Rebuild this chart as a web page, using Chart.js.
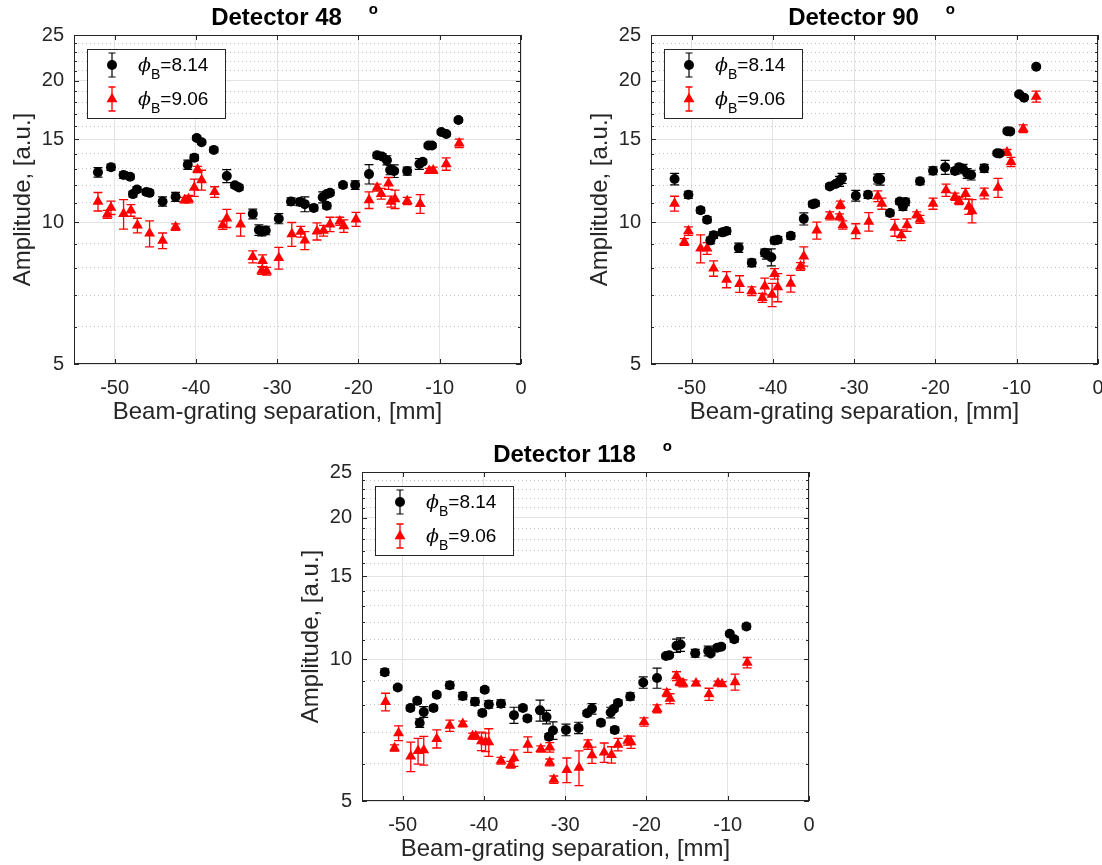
<!DOCTYPE html>
<html>
<head>
<meta charset="utf-8">
<title>Detector amplitudes vs beam-grating separation</title>
<script src="https://cdn.jsdelivr.net/npm/chart.js@4.4.1/dist/chart.umd.min.js"></script>
<style>
  html, body { margin: 0; padding: 0; background: #fff; overflow: hidden; }
  #page { position: relative; width: 1102px; height: 865px; overflow: hidden; }
  .panel { position: absolute; width: 560px; height: 428px; }
</style>
</head>
<body>
<div id="page">
  <div class="panel" style="left:0px;top:0px"><canvas id="c48" width="560" height="428"></canvas></div>
  <div class="panel" style="left:577px;top:0px"><canvas id="c90" width="560" height="428"></canvas></div>
  <div class="panel" style="left:288px;top:437px"><canvas id="c118" width="560" height="428"></canvas></div>
</div>
<script>
// Three panels, one per detector angle. Amplitude on a log axis,
// two beam angles (phi_B = 8.14 black dots, 9.06 red triangles) with error bars.

// --- axis ticks ---
const xMajor = [-50, -40, -30, -20, -10, 0];
const yMajor = [5, 10, 15, 20, 25];
const yMinor = [6, 7, 8, 9, 11, 12, 13, 14, 16, 17, 18, 19, 21, 22, 23, 24];
const legendValues = ['=8.14', '=9.06'];
const xLabel = 'Beam-grating separation, [mm]';
const yLabel = 'Amplitude, [a.u.]';

// --- Detector 48 ---
const det48_x814 = [-52.05, -50.45, -48.9, -48.1, -47.75, -47.25, -46.1, -45.7, -44.1, -42.5, -41.0, -40.2, -39.9, -39.3, -37.8, -36.2, -35.2, -34.7, -33.0, -32.25, -31.9, -31.4, -29.8, -28.3, -27.2, -26.6, -25.5, -24.4, -23.9, -23.5, -23.9, -21.9, -20.4, -18.7, -17.7, -17.1, -16.5, -16.1, -15.6, -14.0, -12.5, -12.1, -11.4, -10.95, -9.8, -9.2, -7.7];
const det48_y814 = [12.77, 13.09, 12.60, 12.50, 11.48, 11.74, 11.60, 11.55, 11.07, 11.33, 13.26, 13.72, 15.11, 14.80, 14.25, 12.54, 11.99, 11.86, 10.42, 9.63, 9.56, 9.61, 10.18, 11.07, 11.05, 10.93, 10.73, 11.30, 11.48, 11.55, 10.84, 12.00, 12.00, 12.66, 13.88, 13.80, 13.55, 12.92, 12.85, 12.85, 13.30, 13.45, 14.56, 14.56, 15.55, 15.40, 16.50];
const det48_e814 = [0.3, 0.2, 0.2, 0.15, 0.15, 0.15, 0.15, 0.15, 0.25, 0.25, 0.3, 0.2, 0.15, 0.15, 0.15, 0.4, 0.15, 0.15, 0.25, 0.25, 0.2, 0.2, 0.25, 0.2, 0.2, 0.4, 0.15, 0.3, 0.15, 0.15, 0.15, 0.15, 0.25, 0.6, 0.2, 0.2, 0.3, 0.3, 0.4, 0.25, 0.35, 0.15, 0.15, 0.15, 0.15, 0.15, 0.15];
const det48_x906 = [-52.05, -50.9, -50.45, -48.9, -48.0, -47.2, -45.7, -44.1, -42.5, -41.4, -40.9, -40.2, -39.8, -39.3, -37.7, -36.7, -36.2, -34.5, -33.0, -31.8, -31.9, -31.3, -29.8, -28.2, -27.1, -26.6, -25.1, -24.3, -23.5, -22.3, -21.8, -20.3, -18.7, -17.7, -17.2, -16.3, -16.0, -15.5, -14.0, -12.4, -11.3, -10.8, -9.2, -7.6];
const det48_y906 = [11.07, 10.40, 10.74, 10.42, 10.60, 9.85, 9.47, 9.14, 9.77, 11.15, 11.20, 11.85, 12.95, 12.30, 11.60, 9.86, 10.20, 9.90, 8.45, 8.28, 7.90, 7.87, 8.40, 9.44, 9.55, 9.15, 9.57, 9.60, 9.90, 10.05, 9.82, 10.15, 11.15, 11.85, 11.50, 12.10, 11.07, 11.20, 11.10, 10.95, 12.87, 12.90, 13.30, 14.72];
const det48_e906 = [0.5, 0.2, 0.35, 0.75, 0.3, 0.35, 0.6, 0.35, 0.15, 0.15, 0.2, 0.5, 0.2, 0.6, 0.3, 0.2, 0.45, 0.55, 0.25, 0.25, 0.15, 0.15, 0.45, 0.55, 0.25, 0.4, 0.4, 0.25, 0.35, 0.2, 0.3, 0.35, 0.45, 0.2, 0.3, 0.35, 0.3, 0.5, 0.2, 0.5, 0.15, 0.2, 0.4, 0.3];

// --- Detector 90 ---
const det90_x814 = [-52.1, -50.4, -48.9, -48.1, -47.7, -47.3, -46.2, -45.7, -44.2, -42.6, -41.0, -40.8, -40.2, -39.8, -39.4, -37.8, -36.2, -35.1, -34.8, -33.0, -32.3, -31.8, -31.5, -29.8, -28.3, -27.1, -26.8, -25.6, -24.4, -24.0, -23.7, -21.9, -20.3, -18.8, -17.6, -17.1, -16.6, -16.1, -15.6, -14.0, -12.4, -12.1, -11.15, -10.8, -9.7, -9.1, -7.6];
const det90_y814 = [12.36, 11.44, 10.61, 10.13, 9.15, 9.39, 9.52, 9.58, 8.83, 8.20, 8.62, 8.55, 8.43, 9.15, 9.18, 9.36, 10.17, 10.93, 10.96, 11.92, 12.06, 12.22, 12.40, 11.39, 11.44, 12.36, 12.34, 10.47, 11.07, 10.80, 11.05, 12.22, 12.87, 13.09, 12.85, 13.09, 12.98, 12.70, 12.60, 13.02, 14.02, 14.00, 15.62, 15.60, 18.71, 18.40, 21.40];
const det90_e814 = [0.35, 0.2, 0.15, 0.15, 0.15, 0.15, 0.15, 0.15, 0.2, 0.15, 0.15, 0.2, 0.35, 0.15, 0.15, 0.15, 0.3, 0.15, 0.15, 0.15, 0.15, 0.3, 0.3, 0.3, 0.2, 0.3, 0.35, 0.15, 0.15, 0.2, 0.2, 0.2, 0.25, 0.45, 0.2, 0.2, 0.3, 0.3, 0.3, 0.25, 0.15, 0.15, 0.15, 0.15, 0.15, 0.15, 0.15];
const det90_x906 = [-52.1, -50.9, -50.4, -48.9, -48.1, -47.3, -45.7, -44.1, -42.6, -41.3, -41.0, -40.1, -39.8, -39.4, -37.8, -36.6, -36.2, -34.6, -33.0, -31.8, -31.7, -31.4, -29.8, -28.2, -27.1, -26.6, -25.0, -24.2, -23.5, -22.3, -21.9, -20.3, -18.7, -17.6, -17.1, -16.3, -15.9, -15.5, -14.0, -12.3, -11.2, -10.7, -9.2, -7.6];
const det90_y906 = [10.96, 9.08, 9.58, 8.80, 8.80, 7.98, 7.56, 7.40, 7.14, 6.91, 7.31, 7.02, 7.77, 7.28, 7.41, 8.06, 8.47, 9.61, 10.32, 10.27, 10.89, 9.87, 9.58, 10.03, 11.36, 10.96, 9.74, 9.39, 9.87, 10.37, 10.15, 10.96, 11.70, 11.33, 11.10, 11.50, 10.80, 10.57, 11.52, 11.85, 14.08, 13.44, 15.80, 18.50];
const det90_e906 = [0.4, 0.15, 0.2, 0.6, 0.25, 0.3, 0.3, 0.3, 0.15, 0.15, 0.3, 0.4, 0.2, 0.5, 0.3, 0.15, 0.4, 0.4, 0.2, 0.15, 0.2, 0.2, 0.35, 0.45, 0.3, 0.3, 0.4, 0.25, 0.3, 0.15, 0.2, 0.3, 0.35, 0.2, 0.2, 0.3, 0.4, 0.6, 0.3, 0.55, 0.2, 0.3, 0.3, 0.5];

// --- Detector 118 ---
const det118_x814 = [-52.2, -50.6, -49.05, -48.2, -47.9, -47.4, -46.2, -45.8, -44.2, -42.6, -41.1, -40.2, -39.9, -39.4, -37.9, -36.3, -35.2, -34.65, -33.1, -32.3, -32.0, -31.5, -29.9, -28.35, -27.3, -26.7, -25.6, -24.4, -24.0, -23.5, -23.9, -22.0, -20.4, -18.7, -17.6, -17.2, -16.3, -15.8, -14.0, -12.4, -12.1, -11.3, -10.8, -9.75, -9.2, -7.7];
const det118_y814 = [9.39, 8.71, 7.88, 8.16, 7.32, 7.73, 7.88, 8.41, 8.81, 8.36, 8.13, 7.69, 8.62, 8.02, 8.05, 7.61, 7.88, 7.49, 7.79, 7.54, 6.85, 7.06, 7.08, 7.15, 7.68, 7.85, 7.33, 7.71, 7.85, 8.08, 7.08, 8.34, 8.93, 9.13, 10.16, 10.20, 10.69, 10.75, 10.30, 10.42, 10.29, 10.58, 10.64, 11.33, 11.03, 11.74];
const det118_e814 = [0.15, 0.1, 0.1, 0.1, 0.15, 0.2, 0.1, 0.1, 0.15, 0.15, 0.15, 0.1, 0.1, 0.15, 0.15, 0.3, 0.1, 0.1, 0.4, 0.25, 0.1, 0.3, 0.2, 0.2, 0.1, 0.2, 0.1, 0.2, 0.1, 0.1, 0.1, 0.15, 0.25, 0.45, 0.1, 0.1, 0.35, 0.35, 0.2, 0.25, 0.1, 0.1, 0.1, 0.1, 0.15, 0.15];
const det118_x906 = [-52.1, -51.0, -50.5, -49.0, -48.1, -47.4, -45.8, -44.2, -42.6, -41.4, -41.0, -40.3, -39.8, -39.4, -37.9, -36.7, -36.3, -34.6, -33.0, -31.9, -31.9, -31.4, -29.8, -28.3, -27.2, -26.7, -25.2, -24.3, -23.5, -22.3, -21.9, -20.3, -18.7, -17.5, -17.1, -16.3, -15.9, -15.5, -13.9, -12.3, -11.2, -10.7, -9.1, -7.6];
const det118_y906 = [8.12, 6.48, 6.97, 6.22, 6.39, 6.41, 6.78, 7.23, 7.29, 6.87, 6.87, 6.70, 6.67, 6.67, 6.09, 5.97, 6.17, 6.59, 6.45, 6.50, 6.04, 5.55, 5.82, 5.89, 6.59, 6.26, 6.34, 6.27, 6.59, 6.72, 6.67, 7.36, 7.85, 8.48, 8.25, 9.21, 8.94, 8.89, 8.89, 8.43, 8.89, 8.86, 8.95, 9.84];
const det118_e906 = [0.35, 0.1, 0.25, 0.45, 0.4, 0.45, 0.3, 0.2, 0.1, 0.1, 0.1, 0.3, 0.3, 0.45, 0.1, 0.1, 0.25, 0.25, 0.1, 0.15, 0.1, 0.1, 0.35, 0.5, 0.15, 0.25, 0.3, 0.25, 0.2, 0.15, 0.2, 0.15, 0.15, 0.15, 0.2, 0.2, 0.15, 0.15, 0.1, 0.25, 0.1, 0.1, 0.35, 0.25];

const FONT = '"Liberation Sans", Arial, Helvetica, sans-serif';
const INK = '#262626';
const RED = '#ff0000';
const CIRCLE_R = 5;
const TRI_R = 6.3;

function pts(xs, ys) {
  return xs.map((x, i) => ({ x: x, y: ys[i] }));
}

// error bars drawn under the markers, positioned with the chart's scales
const errorBarPlugin = {
  id: 'errorBars',
  beforeDatasetsDraw(chart) {
    const ctx = chart.ctx;
    const sx = chart.scales.x, sy = chart.scales.y;
    chart.data.datasets.forEach(ds => {
      if (!ds.errors) return;
      ctx.save();
      ctx.strokeStyle = ds.borderColor;
      ctx.lineWidth = ds.errorWidth;
      ds.data.forEach((p, j) => {
        const e = ds.errors[j];
        const px = sx.getPixelForValue(p.x);
        const top = sy.getPixelForValue(p.y + e);
        const bot = sy.getPixelForValue(p.y - e);
        ctx.beginPath();
        ctx.moveTo(px, top); ctx.lineTo(px, bot);
        ctx.moveTo(px - 4.5, top); ctx.lineTo(px + 4.5, top);
        ctx.moveTo(px - 4.5, bot); ctx.lineTo(px + 4.5, bot);
        ctx.stroke();
      });
      ctx.restore();
    });
  }
};

// box around the axes plus inward tick marks (MATLAB look)
const framePlugin = {
  id: 'frame',
  afterDatasetsDraw(chart) {
    const ctx = chart.ctx, a = chart.chartArea;
    const sx = chart.scales.x, sy = chart.scales.y;
    ctx.save();
    ctx.strokeStyle = INK;
    ctx.lineWidth = 1;
    ctx.strokeRect(Math.round(a.left) + 0.5, Math.round(a.top) + 0.5,
      Math.round(a.right - a.left) - 1, Math.round(a.bottom - a.top) - 1);
    ctx.beginPath();
    xMajor.forEach(v => {
      const px = Math.round(sx.getPixelForValue(v)) + 0.5;
      ctx.moveTo(px, a.bottom); ctx.lineTo(px, a.bottom - 5);
      ctx.moveTo(px, a.top); ctx.lineTo(px, a.top + 5);
    });
    yMajor.forEach(v => {
      const py = Math.round(sy.getPixelForValue(v)) + 0.5;
      ctx.moveTo(a.left, py); ctx.lineTo(a.left + 5, py);
      ctx.moveTo(a.right, py); ctx.lineTo(a.right - 5, py);
    });
    yMinor.forEach(v => {
      const py = Math.round(sy.getPixelForValue(v)) + 0.5;
      ctx.moveTo(a.left, py); ctx.lineTo(a.left + 3, py);
      ctx.moveTo(a.right, py); ctx.lineTo(a.right - 3, py);
    });
    ctx.stroke();
    ctx.restore();
  }
};

function drawMarker(ctx, style, x, y, color) {
  ctx.fillStyle = color;
  ctx.beginPath();
  if (style === 'circle') {
    ctx.arc(x, y, CIRCLE_R, 0, Math.PI * 2);
  } else {
    const r = TRI_R;
    ctx.moveTo(x, y - r);
    ctx.lineTo(x + r * Math.sin(2 * Math.PI / 3), y - r * Math.cos(2 * Math.PI / 3));
    ctx.lineTo(x + r * Math.sin(4 * Math.PI / 3), y - r * Math.cos(4 * Math.PI / 3));
    ctx.closePath();
  }
  ctx.fill();
}

// legend with the phi_B subscript, which the built-in legend cannot do
const legendPlugin = {
  id: 'phiLegend',
  afterDraw(chart) {
    const ctx = chart.ctx, a = chart.chartArea;
    const bx = Math.round(a.left) + 13, by = Math.round(a.top) + 14;
    ctx.save();
    ctx.fillStyle = '#fff';
    ctx.fillRect(bx, by, 138, 69);
    ctx.strokeStyle = INK;
    ctx.lineWidth = 1;
    ctx.strokeRect(bx + 0.5, by + 0.5, 138, 69);
    chart.data.datasets.forEach((ds, i) => {
      const cy = by + 16 + i * 34;
      const gx = bx + 25;
      ctx.strokeStyle = ds.borderColor;
      ctx.lineWidth = ds.errorWidth;
      ctx.beginPath();
      ctx.moveTo(gx, cy - 12); ctx.lineTo(gx, cy + 12);
      ctx.moveTo(gx - 3.5, cy - 12); ctx.lineTo(gx + 3.5, cy - 12);
      ctx.moveTo(gx - 3.5, cy + 12); ctx.lineTo(gx + 3.5, cy + 12);
      ctx.stroke();
      drawMarker(ctx, ds.pointStyle, gx, cy, ds.backgroundColor);
      ctx.fillStyle = '#000';
      ctx.textBaseline = 'alphabetic';
      ctx.textAlign = 'left';
      let tx = bx + 51;
      ctx.font = 'italic 19px "DejaVu Serif", serif';
      ctx.fillText('ϕ', tx, cy + 6);
      tx += ctx.measureText('ϕ').width;
      ctx.font = '14px ' + FONT;
      ctx.fillText('B', tx, cy + 14);
      tx += ctx.measureText('B').width;
      ctx.font = '19px ' + FONT;
      ctx.fillText(legendValues[i], tx, cy + 6);
    });
    ctx.restore();
  }
};

// "Detector NN" with the stray degree "o" the original shows,
// and the x label, which sits a little left of the axes centre
const titlePlugin = {
  id: 'panelTitle',
  afterDraw(chart, args, opts) {
    const ctx = chart.ctx, a = chart.chartArea;
    const mid = (a.left + a.right) / 2;
    ctx.save();
    ctx.fillStyle = '#000';
    ctx.textBaseline = 'alphabetic';
    ctx.font = 'bold 24px ' + FONT;
    ctx.textAlign = 'center';
    const cx = mid - 21;
    ctx.fillText(opts.text, cx, a.top - 10);
    const right = cx + ctx.measureText(opts.text).width / 2;
    ctx.font = 'bold 15px ' + FONT;
    ctx.textAlign = 'left';
    ctx.fillText('o', right + 27, a.top - 21);

    ctx.fillStyle = INK;
    ctx.font = '24px ' + FONT;
    ctx.textAlign = 'center';
    ctx.fillText(xLabel, mid - 20, a.bottom + 55);
    ctx.restore();
  }
};

function makePanel(canvasId, title, x1, y1, e1, x2, y2, e2) {
  return new Chart(document.getElementById(canvasId), {
    type: 'scatter',
    data: {
      datasets: [
        {
          label: 'phiB=8.14',
          data: pts(x1, y1),
          errors: e1,
          errorWidth: 1.2,
          pointStyle: 'circle',
          pointRadius: CIRCLE_R,
          borderWidth: 0,
          backgroundColor: '#000000',
          borderColor: '#000000'
        },
        {
          label: 'phiB=9.06',
          data: pts(x2, y2),
          errors: e2,
          errorWidth: 1.3,
          pointStyle: 'triangle',
          pointRadius: TRI_R,
          borderWidth: 0,
          backgroundColor: RED,
          borderColor: RED
        }
      ]
    },
    options: {
      responsive: false,
      animation: false,
      events: [],
      layout: { padding: { top: 35, right: 39, left: 0, bottom: 0 } },
      plugins: {
        legend: { display: false },
        title: { display: false },
        tooltip: { enabled: false },
        panelTitle: { text: title }
      },
      scales: {
        x: {
          type: 'linear',
          min: -55,
          max: 0,
          afterBuildTicks: s => { s.ticks = xMajor.map(v => ({ value: v })); },
          afterFit: s => { s.height = 64; },
          grid: { color: '#e3e3e3', lineWidth: 1, drawTicks: false },
          border: { display: false },
          ticks: {
            color: INK, padding: 12, maxRotation: 0, autoSkip: false,
            font: { family: FONT, size: 20 },
            callback: v => String(v)
          },
          title: { display: false }
        },
        y: {
          type: 'logarithmic',
          position: 'left',
          min: 5,
          max: 25,
          afterBuildTicks: s => { s.ticks = yMajor.map(v => ({ value: v })); },
          afterFit: s => { s.width = 74; },
          grid: { color: '#e3e3e3', lineWidth: 1, drawTicks: false },
          border: { display: false },
          ticks: {
            color: INK, padding: 10,
            font: { family: FONT, size: 20 },
            callback: v => String(v)
          },
          title: {
            display: true,
            text: yLabel,
            color: INK,
            font: { family: FONT, size: 24, lineHeight: 1 },
            padding: { top: 11, bottom: 0 }
          }
        },
        yMinor: {
          type: 'logarithmic',
          position: 'left',
          min: 5,
          max: 25,
          afterBuildTicks: s => { s.ticks = yMinor.map(v => ({ value: v })); },
          afterFit: s => { s.width = 0; },
          grid: { color: '#c4c4c4', lineWidth: 1, drawTicks: false },
          border: { display: false, dash: [1, 3] },
          ticks: { display: false }
        }
      }
    },
    plugins: [errorBarPlugin, framePlugin, legendPlugin, titlePlugin]
  });
}

makePanel('c48', 'Detector 48', det48_x814, det48_y814, det48_e814, det48_x906, det48_y906, det48_e906);
makePanel('c90', 'Detector 90', det90_x814, det90_y814, det90_e814, det90_x906, det90_y906, det90_e906);
makePanel('c118', 'Detector 118', det118_x814, det118_y814, det118_e814, det118_x906, det118_y906, det118_e906);
</script>
</body>
</html>
